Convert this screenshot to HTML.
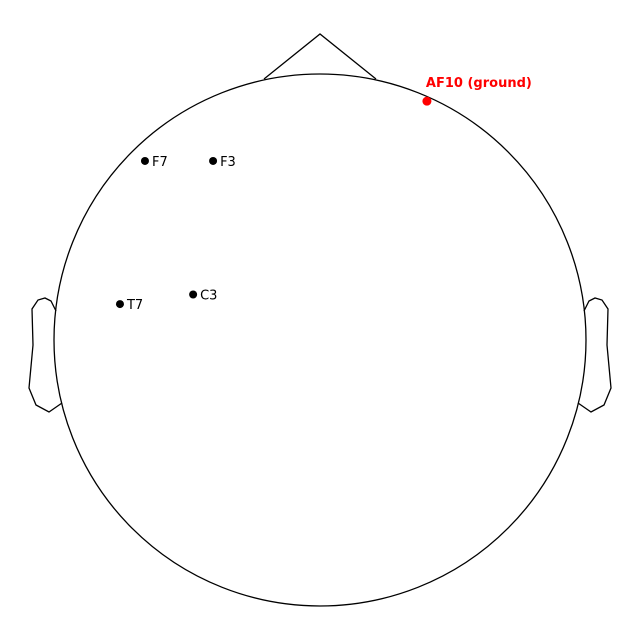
<!DOCTYPE html>
<html><head><meta charset="utf-8"><style>body{margin:0;background:#fff}svg{display:block}</style></head>
<body>
<svg id="chart" width="640" height="640" viewBox="0 0 640 640" font-family="'DejaVu Sans','Liberation Sans',sans-serif">
<g id="head" fill="none" stroke="#000" stroke-width="1.3">
<circle cx="320" cy="340" r="266"/>
<polyline points="264,79 320,34 376,79"/>
<polyline points="56,311 51,301 45,298 38,300 32,309 33,345 29,388 36,405 49,412 62,403"/>
<polyline points="584,311 589,301 595,298 602,300 608,309 607,345 611,388 604,405 591,412 578,403"/>
</g>
<g id="sensors"></g>
</svg>
<script>
const names=["F7","F3","C3","T7"];
const xs=[-0.658,-0.402,-0.477,-0.752];
const ys=[0.673,0.673,0.171,0.135];
const groundName=["AF10 (ground)"];
const groundX=[0.402];
const groundY=[0.898];
const cx=320,cy=340,R=266;
const sx=v=>cx+v*R, sy=v=>cy-v*R;
const g=document.getElementById('sensors');
const NS="http://www.w3.org/2000/svg";
names.forEach((n,i)=>{
  const c=document.createElementNS(NS,'circle');
  
  
  c.setAttribute('cx',sx(xs[i]));c.setAttribute('cy',sy(ys[i]));c.setAttribute('r',4);
  g.appendChild(c);
  const t=document.createElementNS(NS,'text');
  
  
  t.setAttribute('x',sx(xs[i])+7);t.setAttribute('y',sy(ys[i])+5);t.setAttribute('font-size','13');
  t.textContent=n;g.appendChild(t);
});
groundName.forEach((n,i)=>{
  const c=document.createElementNS(NS,'circle');
  
  
  c.setAttribute('cx',sx(groundX[i]));c.setAttribute('cy',sy(groundY[i]));c.setAttribute('r',4.5);c.setAttribute('fill','#f00');
  g.appendChild(c);
  const t=document.createElementNS(NS,'text');
  
  
  t.setAttribute('x',sx(groundX[i])-1);t.setAttribute('y',sy(groundY[i])-14);t.setAttribute('font-size','13');
  t.setAttribute('font-weight','bold');t.setAttribute('fill','#f00');
  t.textContent=n;g.appendChild(t);
});
</script>
</body></html>
